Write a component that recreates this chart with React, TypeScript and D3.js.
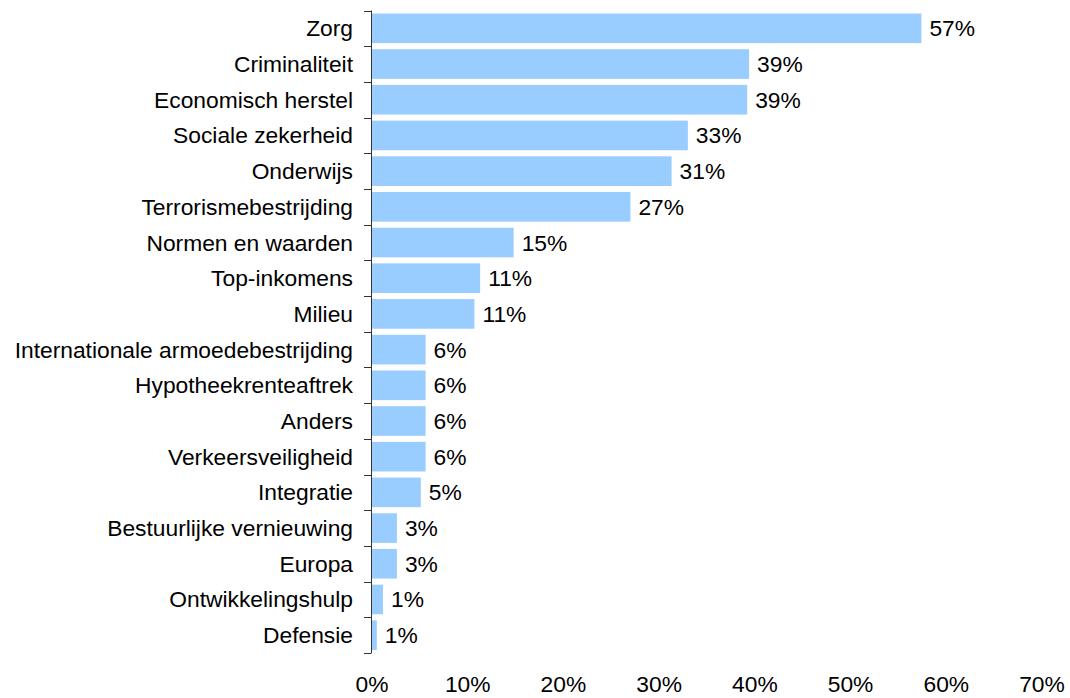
import React from "react";
import * as d3 from "d3";

const categories = [
  "Zorg",
  "Criminaliteit",
  "Economisch herstel",
  "Sociale zekerheid ",
  "Onderwijs",
  "Terrorismebestrijding",
  "Normen en waarden",
  "Top-inkomens",
  "Milieu",
  "Internationale armoedebestrijding",
  "Hypotheekrenteaftrek",
  "Anders",
  "Verkeersveiligheid",
  "Integratie",
  "Bestuurlijke vernieuwing",
  "Europa",
  "Ontwikkelingshulp",
  "Defensie",
];

const values = [57.4, 39.4, 39.2, 33.0, 31.3, 27.0, 14.8, 11.3, 10.7, 5.6, 5.6, 5.6, 5.6, 5.1, 2.6, 2.6, 1.15, 0.5];
const valueLabels = ["57%", "39%", "39%", "33%", "31%", "27%", "15%", "11%", "11%", "6%", "6%", "6%", "6%", "5%", "3%", "3%", "1%", "1%"];
const xTicks = [0, 10, 20, 30, 40, 50, 60, 70];

const W = 1070;
const H = 698;
const FONT = "'Liberation Sans', Arial, sans-serif";
const FS = 22.8;

export default function App() {
  const x = d3.scaleLinear().domain([0, 70]).range([372, 1042]);
  const y = d3
    .scaleBand<string>()
    .domain(categories)
    .range([10.5, 653])
    .paddingInner(0.17)
    .paddingOuter(0.085);
  const step = y.step();
  const top = 10.5;
  const axisX = 371;

  return (
    <svg
      width={W}
      height={H}
      style={{ position: "absolute", left: 0, top: 0, background: "#fff" }}
      fontFamily={FONT}
    >
      {categories.map((c, i) => {
        const yy = y(c)!;
        const cy = yy + y.bandwidth() / 2;
        return (
          <g key={c}>
            <rect x={x(0)} y={yy} width={x(values[i]) - x(0)} height={y.bandwidth()} fill="#99CCFF" />
            <text x={353} y={cy + 8} fontSize={FS} textAnchor="end" fill="#000">
              {c}
            </text>
            <text x={x(values[i]) + 8} y={cy + 8} fontSize={FS} fill="#000">
              {valueLabels[i]}
            </text>
          </g>
        );
      })}
      <line x1={axisX + 0.5} x2={axisX + 0.5} y1={top} y2={653} stroke="#333" strokeWidth={1} />
      {d3.range(categories.length + 1).map((i) => (
        <line
          key={i}
          x1={364}
          x2={axisX + 0.5}
          y1={Math.round(top + i * step) + 0.5}
          y2={Math.round(top + i * step) + 0.5}
          stroke="#333"
          strokeWidth={1}
        />
      ))}
      {xTicks.map((t) => (
        <text key={t} x={x(t)} y={692} fontSize={FS} textAnchor="middle" fill="#000">
          {t + "%"}
        </text>
      ))}
    </svg>
  );
}
